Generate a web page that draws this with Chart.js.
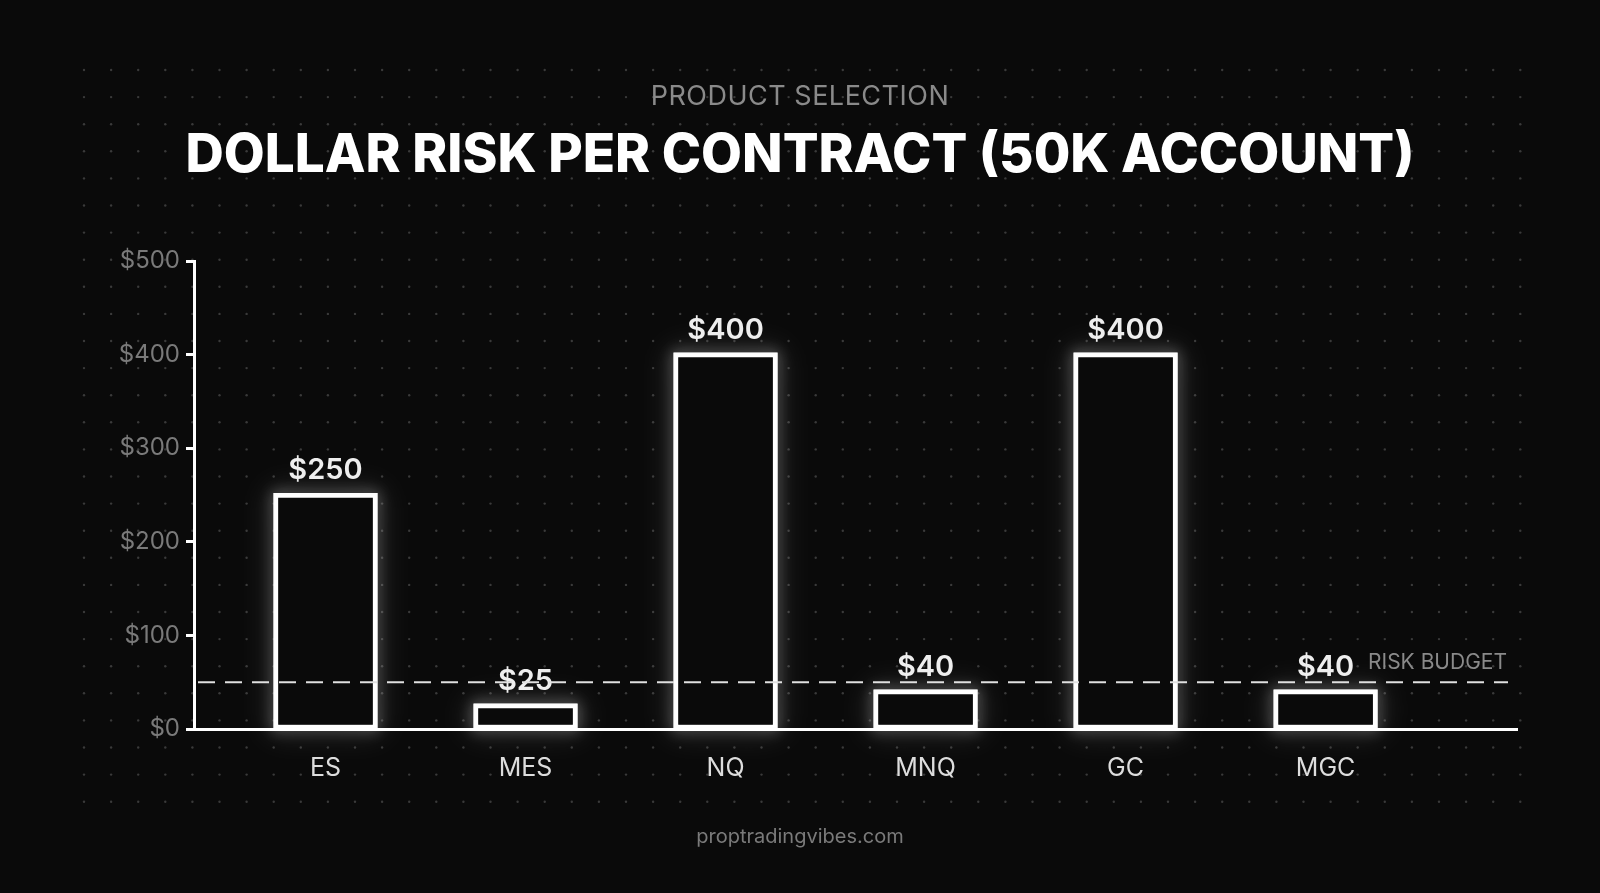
<!DOCTYPE html>
<html>
<head>
<meta charset="utf-8">
<script src="https://cdn.jsdelivr.net/npm/chart.js@4"></script>
<style>
  html, body { margin: 0; padding: 0; background: #0a0a0a; overflow: hidden; }
  #wrap { position: relative; width: 1600px; height: 893px; }
  canvas { position: absolute; left: 0; top: 0; }
  .txt { position: absolute; left: 0; width: 1600px; text-align: center; font-family: Inter, sans-serif; }
  #sub { top: 79px; font-size: 27px; color: #8a8a8a; letter-spacing: 0.5px; }
  #title { top: 121px; font-size: 53px; font-weight: 800; color: #fff; }
  #foot { top: 824px; font-size: 20px; color: #7a7a7a; }
</style>
</head>
<body>
<div id="wrap">
  <canvas id="chart" width="1600" height="893"></canvas>
  <div class="txt" id="sub">PRODUCT SELECTION</div>
  <div class="txt" id="title">DOLLAR RISK PER CONTRACT (50K ACCOUNT)</div>
  <div class="txt" id="foot">proptradingvibes.com</div>
</div>
<script>
// Données
const products = ['ES', 'MES', 'NQ', 'MNQ', 'GC', 'MGC'];
const riskValues = [250, 25, 400, 40, 400, 40];
const yTicks = [0, 100, 200, 300, 400, 500];
const riskBudget = 50;

// Fond à points
const bgPlugin = {
    id: 'bg',
    beforeDraw(chart) {
        const ctx = chart.ctx;
        ctx.save();
        ctx.fillStyle = '#0a0a0a';
        ctx.fillRect(0, 0, chart.width, chart.height);
        ctx.fillStyle = '#3a3a3a';
        for (let x = 84; x < 1525; x += 27.1) {
            for (let y = 70; y < 810; y += 27.1) {
                ctx.beginPath();
                ctx.arc(x, y, 1.2, 0, Math.PI * 2);
                ctx.fill();
            }
        }
        ctx.restore();
    }
};

// Lueur des barres + étiquettes
const glowPlugin = {
    id: 'glow',
    beforeDatasetsDraw(chart) {
        const ctx = chart.ctx;
        const meta = chart.getDatasetMeta(0);
        ctx.save();
        ctx.strokeStyle = 'rgba(255,255,255,0.9)';
        ctx.lineWidth = 4;
        ctx.shadowColor = 'rgba(255,255,255,0.6)';
        [30, 14].forEach(blur => {
            ctx.shadowBlur = blur;
            meta.data.forEach(bar => {
                const w = bar.width;
                ctx.strokeRect(bar.x - w / 2, bar.y, w, bar.base - bar.y);
            });
        });
        ctx.restore();
    },
    afterDatasetsDraw(chart) {
        const ctx = chart.ctx;
        const meta = chart.getDatasetMeta(0);
        ctx.save();
        ctx.fillStyle = '#eeeeee';
        ctx.font = '600 29px Inter, sans-serif';
        ctx.textAlign = 'center';
        ctx.textBaseline = 'bottom';
        meta.data.forEach((bar, i) => {
            ctx.fillText('$' + riskValues[i], bar.x, bar.y - 10);
        });
        // Ligne de budget de risque
        const yPix = chart.scales.y.getPixelForValue(riskBudget);
        ctx.strokeStyle = '#e0e0e0';
        ctx.lineWidth = 2;
        ctx.setLineDash([17, 10]);
        ctx.beginPath();
        ctx.moveTo(chart.chartArea.left + 4, yPix);
        ctx.lineTo(chart.chartArea.right - 9, yPix);
        ctx.stroke();
        ctx.setLineDash([]);
        ctx.fillStyle = '#8a8a8a';
        ctx.font = '21px Inter, sans-serif';
        ctx.textAlign = 'right';
        ctx.textBaseline = 'bottom';
        ctx.fillText('RISK BUDGET', chart.chartArea.right - 10, yPix - 9);
        ctx.restore();
    }
};

new Chart(document.getElementById('chart'), {
    type: 'bar',
    data: {
        datasets: [{
            data: riskValues.map((v, i) => ({ x: i, y: v })),
            backgroundColor: '#0a0a0a',
            borderColor: '#ffffff',
            borderWidth: 3,
            borderSkipped: false,
            barThickness: 100
        }]
    },
    options: {
        responsive: false,
        animation: false,
        layout: { padding: { left: 104, top: 261, right: 83, bottom: 104 } },
        plugins: { legend: { display: false }, tooltip: { enabled: false } },
        scales: {
            x: {
                type: 'linear',
                offset: false,
                min: -0.6575,
                max: 5.957,
                afterFit(s) { s.height = 60; },
                afterBuildTicks(s) { s.ticks = products.map((p, i) => ({ value: i })); },
                border: { color: '#ffffff', width: 3 },
                grid: { display: false },
                ticks: {
                    color: '#dddddd',
                    font: { family: 'Inter, sans-serif', size: 25 },
                    padding: 16,
                    callback: v => products[v]
                }
            },
            y: {
                min: 0,
                max: 500,
                afterFit(s) { s.width = 90; },
                afterBuildTicks(s) { s.ticks = yTicks.map(v => ({ value: v })); },
                border: { color: '#ffffff', width: 3 },
                grid: { drawOnChartArea: false, color: '#ffffff', tickLength: 8, lineWidth: 3 },
                ticks: {
                    color: '#7a7a7a',
                    font: { family: 'Inter, sans-serif', size: 24 },
                    padding: 6,
                    callback: v => '$' + v
                }
            }
        }
    },
    plugins: [bgPlugin, glowPlugin]
});
</script>
</body>
</html>
